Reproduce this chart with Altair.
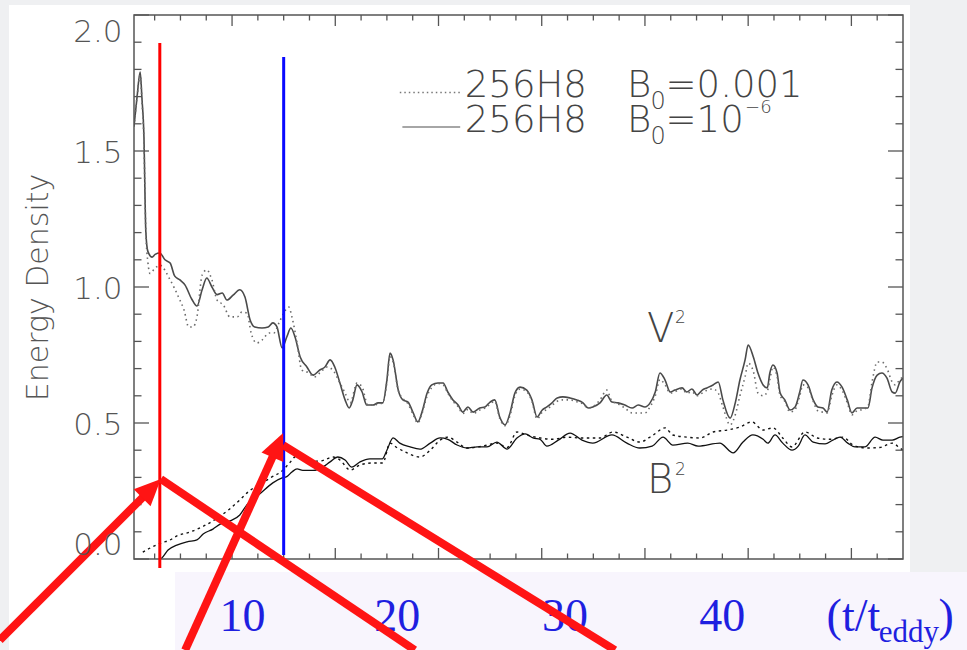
import altair as alt
import pandas as pd

# ---- data (x: output time index 1..150, y: energy density) ----
v2_solid = [(1.0,1.59),(1.6,1.70),(2.2,1.79),(2.55,1.69),(2.9,1.57),(3.3,1.20),(3.7,1.13),(4.5,1.11),(5.1,1.12),(6.0,1.125),
(7.0,1.10),(8.0,1.088),(8.9,1.04),(9.9,1.026),(10.9,1.007),(12.2,0.955),(13.2,0.93),(14.2,0.99),(15.1,1.033),(16.1,1.0),
(17.1,0.972),(18.1,0.978),(19.0,0.952),(20.2,0.97),(21.5,0.99),(22.5,0.963),(23.5,0.879),(24.4,0.853),(25.8,0.849),(27.0,0.853),
(27.9,0.868),(28.7,0.853),(29.7,0.776),(30.6,0.816),(31.4,0.849),(32.2,0.816),(33.2,0.743),(34.5,0.706),(35.7,0.676),(37.0,0.695),
(38.0,0.706),(39.0,0.732),(39.9,0.706),(40.9,0.647),(41.9,0.585),(42.7,0.555),(43.4,0.585),(44.2,0.640),(45.2,0.614),(46.1,0.566),
(47.3,0.566),(48.3,0.574),(49.2,0.574),(50.0,0.658),(50.6,0.757),(51.2,0.732),(52.2,0.621),(53.1,0.585),(54.1,0.577),(55.1,0.537),
(56.0,0.504),(56.8,0.540),(57.8,0.610),(58.7,0.640),(59.9,0.647),(60.9,0.647),(61.8,0.614),(62.8,0.585),(63.8,0.566),(64.7,0.540),
(65.7,0.559),(66.7,0.540),(68.0,0.555),(69.0,0.559),(70.0,0.577),(70.9,0.585),(71.9,0.520),(72.9,0.493),(73.9,0.540),(74.8,0.610),
(75.8,0.632),(77.1,0.621),(78.1,0.585),(79.1,0.522),(80.1,0.548),(81.0,0.559),(82.0,0.574),(83.0,0.592),(84.1,0.596),(85.5,0.592),
(86.8,0.585),(88.0,0.574),(89.0,0.555),(89.9,0.559),(91.3,0.574),(92.6,0.603),(93.6,0.577),(94.8,0.574),(96.1,0.566),(97.5,0.555),
(98.7,0.566),(100.0,0.559),(101.0,0.574),(102.0,0.614),(102.9,0.684),(103.9,0.658),(104.9,0.614),(105.8,0.621),(107.2,0.629),(108.1,0.614),
(109.1,0.625),(110.1,0.603),(111.1,0.621),(112.0,0.629),(113.2,0.640),(114.2,0.651),(115.1,0.585),(116.5,0.518),(117.5,0.574),(118.4,0.658),
(119.4,0.732),(120.0,0.787),(121.0,0.743),(121.9,0.684),(122.9,0.640),(123.7,0.629),(124.2,0.684),(124.8,0.713),(125.6,0.684),(126.2,0.610),
(127.1,0.585),(128.1,0.548),(129.1,0.559),(130.0,0.614),(130.6,0.658),(131.6,0.640),(132.6,0.585),(133.5,0.559),(134.5,0.555),(135.3,0.540),
(136.2,0.621),(137.2,0.651),(138.2,0.632),(139.2,0.585),(140.1,0.537),(141.1,0.555),(142.3,0.555),(143.2,0.555),(144.0,0.629),(145.0,0.676),
(145.9,0.684),(146.9,0.665),(147.9,0.614),(148.5,0.610),(149.4,0.651),(150.0,0.665)]

v2_dotted = [(1.0,1.59),(1.6,1.70),(2.2,1.78),(2.55,1.68),(2.9,1.55),(3.3,1.20),(3.7,1.09),(4.1,1.05),(5.1,1.07),(6.0,1.08),
(8.0,1.026),(9.7,0.96),(10.7,0.915),(11.6,0.853),(12.4,0.853),(13.2,0.89),(14.2,1.044),(15.1,1.063),(16.1,1.026),(17.1,0.952),
(18.3,0.934),(19.6,0.89),(21.0,0.89),(21.9,0.908),(22.9,0.904),(23.7,0.831),(24.8,0.794),(25.8,0.805),(27.2,0.831),(28.1,0.831),
(29.1,0.868),(30.0,0.904),(31.0,0.926),(31.6,0.89),(32.6,0.794),(33.5,0.695),(34.9,0.684),(35.9,0.669),(37.0,0.684),(38.4,0.706),
(39.5,0.695),(40.9,0.647),(41.9,0.610),(42.9,0.574),(44.2,0.647),(45.2,0.632),(46.3,0.566),(47.3,0.566),(48.3,0.570),(49.2,0.574),
(50.0,0.650),(50.6,0.745),(51.2,0.725),(52.2,0.620),(53.1,0.590),(54.1,0.570),(55.1,0.530),(56.0,0.500),(56.8,0.535),(57.8,0.600),
(58.7,0.630),(59.9,0.645),(60.9,0.640),(61.8,0.610),(62.8,0.580),(63.8,0.560),(64.7,0.535),(65.7,0.550),(66.7,0.535),(68.0,0.548),
(69.0,0.555),(70.0,0.570),(70.9,0.580),(71.9,0.515),(72.9,0.490),(73.9,0.530),(74.8,0.600),(75.8,0.625),(77.1,0.615),(78.1,0.580),
(79.1,0.515),(80.1,0.540),(81.0,0.550),(82.0,0.565),(83.0,0.580),(84.1,0.585),(85.5,0.585),(86.8,0.578),(88.0,0.570),(89.0,0.555),
(89.9,0.560),(91.3,0.585),(92.6,0.621),(93.6,0.580),(94.8,0.570),(96.1,0.555),(97.5,0.537),(98.7,0.537),(100.0,0.537),(101.0,0.560),
(102.0,0.600),(102.9,0.660),(103.9,0.640),(104.9,0.610),(105.8,0.615),(107.2,0.625),(108.1,0.610),(109.1,0.615),(110.1,0.600),(111.1,0.610),
(112.0,0.620),(113.2,0.625),(114.2,0.610),(115.1,0.560),(116.5,0.493),(117.5,0.530),(118.4,0.600),(119.4,0.670),(120.0,0.720),(121.0,0.690),
(121.9,0.610),(122.9,0.600),(123.7,0.615),(124.2,0.660),(124.8,0.706),(125.6,0.670),(126.2,0.600),(127.1,0.580),(128.1,0.540),(129.1,0.550),
(130.0,0.600),(130.6,0.640),(131.6,0.630),(132.6,0.580),(133.5,0.545),(134.5,0.540),(135.3,0.537),(136.2,0.600),(137.2,0.640),(138.2,0.620),
(139.2,0.575),(140.1,0.530),(141.1,0.545),(142.3,0.550),(143.2,0.560),(144.0,0.650),(145.0,0.724),(145.9,0.724),(146.9,0.700),(147.9,0.651),
(148.5,0.640),(149.4,0.660),(150.0,0.670)]

b2_solid = [(6.0,0.0),(6.4,0.004),(7.6,0.033),(9.3,0.051),(11.3,0.063),(13.2,0.070),(14.4,0.092),(16.3,0.110),(17.7,0.128),
(19.6,0.140),(21.5,0.162),(22.9,0.200),(25.4,0.240),(27.9,0.280),(29.7,0.298),(30.6,0.303),(31.6,0.320),(32.6,0.331),(33.7,0.326),
(35.7,0.326),(37.6,0.338),(39.0,0.357),(40.5,0.375),(41.9,0.364),(43.2,0.338),(44.8,0.357),(46.7,0.368),(49.1,0.368),(50.0,0.400),
(51.2,0.445),(52.5,0.426),(54.5,0.412),(56.4,0.404),(58.4,0.426),(60.3,0.445),(61.8,0.440),(63.6,0.419),(65.5,0.408),(67.5,0.412),
(69.4,0.412),(71.3,0.430),(73.3,0.404),(75.2,0.445),(76.8,0.460),(78.3,0.445),(79.7,0.440),(81.0,0.415),(83.2,0.437),(85.5,0.463),
(87.8,0.437),(89.9,0.426),(93.6,0.456),(96.5,0.426),(99.0,0.408),(101.4,0.415),(103.5,0.448),(105.4,0.419),(108.3,0.426),(110.3,0.415),
(114.5,0.426),(117.1,0.390),(119.0,0.430),(120.9,0.456),(122.9,0.440),(123.8,0.426),(125.2,0.456),(126.7,0.426),(128.5,0.400),(129.7,0.415),
(131.0,0.456),(132.6,0.430),(134.9,0.423),(136.4,0.437),(137.8,0.448),(139.3,0.426),(140.7,0.412),(142.6,0.412),(144.6,0.448),(146.1,0.437),
(147.9,0.437),(149.4,0.448),(150.0,0.450)]

b2_dashed = [(2.7,0.025),(4.5,0.044),(6.4,0.060),(8.0,0.070),(9.3,0.085),(11.5,0.097),(14.4,0.120),(17.4,0.154),(19.6,0.185),(21.5,0.217),
(23.2,0.248),(25.4,0.275),(27.6,0.300),(29.9,0.327),(31.2,0.355),(32.6,0.380),(35.1,0.360),(37.0,0.360),(39.6,0.375),(40.9,0.364),
(42.9,0.327),(44.8,0.346),(47.3,0.353),(49.2,0.353),(50.6,0.426),(51.9,0.410),(53.9,0.390),(56.4,0.375),(58.4,0.400),(60.3,0.437),
(61.8,0.448),(63.6,0.430),(65.5,0.408),(68.6,0.415),(71.3,0.426),(73.3,0.410),(75.2,0.467),(77.1,0.456),(79.7,0.445),(82.2,0.440),
(84.9,0.448),(87.4,0.445),(91.3,0.445),(93.8,0.467),(96.5,0.448),(99.0,0.430),(101.6,0.456),(103.9,0.482),(105.4,0.456),(108.1,0.448),
(110.7,0.445),(113.2,0.467),(115.9,0.474),(118.4,0.485),(120.7,0.504),(122.9,0.474),(124.8,0.482),(126.7,0.445),(128.5,0.412),(131.0,0.467),
(133.4,0.445),(135.9,0.440),(138.4,0.448),(140.3,0.419),(143.0,0.408),(145.5,0.410),(147.9,0.426),(149.4,0.408),(150.0,0.400)]

# axis ticks
x_major_ticks = [20, 40, 60, 80, 100, 120, 140]
x_minor_ticks = [5, 10, 15, 25, 30, 35, 45, 50, 55, 65, 70, 75, 85, 90, 95, 105, 110, 115, 125, 130, 135, 145]
y_major_ticks = [0.0, 0.5, 1.0, 1.5, 2.0]
y_minor_ticks = [0.1, 0.2, 0.3, 0.4, 0.6, 0.7, 0.8, 0.9, 1.1, 1.2, 1.3, 1.4, 1.6, 1.7, 1.8, 1.9]

# slide overlay (t / t_eddy labels) and markers
overlay_labels = ["10", "20", "30", "40"]
overlay_label_x = [22.0, 52.0, 84.5, 115.0]
marker_red_x = 6.0      # t = 2 t_eddy
marker_blue_x = 30.0    # t = 10 t_eddy

# legend pieces: run name, "B", subscript "0", value, superscript
legend_run = ["256H8", "256H8"]
legend_value = ["=0.001", "=10"]
legend_sup = ["", "\u22126"]

# ---- layout ----
W, H = 769, 544
FONT = "DejaVu Sans"
GRAY = "#555555"
TXT = "#444444"
RED = "#ff1414"
BLUE_TXT = "#1f1fe0"

xs = alt.Scale(domain=[1, 150], nice=False, zero=False)
ys = alt.Scale(domain=[0, 2], nice=False, zero=False)


def X(f="x"):
    return alt.X(f"{f}:Q", scale=xs, axis=None)


def Y(f="y"):
    # axis left implicit so that the explicit axis of the V^2 layer is kept
    return alt.Y(f"{f}:Q", scale=ys)


def df_pairs(p):
    return pd.DataFrame(p, columns=["x", "y"])


def text_layer(xv, yv, texts, size, font=FONT, color=TXT, weight=200, align="left"):
    d = pd.DataFrame({"x": xv, "y": yv, "t": texts})
    return alt.Chart(d).mark_text(
        font=font, fontSize=size, fontWeight=weight, color=color, align=align, baseline="alphabetic"
    ).encode(x=X(), y=Y(), text="t:N")


one = pd.DataFrame({"a": [0]})

layers = []
# slide background pieces
layers.append(alt.Chart(one).mark_rect(color="white").encode(
    x=alt.value(-125), x2=alt.value(776), y=alt.value(-10), y2=alt.value(635)))
layers.append(alt.Chart(one).mark_rect(color="#f8f5fd").encode(
    x=alt.value(41), x2=alt.value(840), y=alt.value(557), y2=alt.value(640)))

# curves (first one carries the y axis)
layers.append(alt.Chart(df_pairs(v2_solid)).mark_line(
    color="#4a4a4a", strokeWidth=1.6, interpolate="monotone", clip=True
).encode(
    x=X(),
    y=alt.Y("y:Q", scale=ys, axis=alt.Axis(
        values=y_major_ticks, format=".1f", ticks=False, domain=False, grid=False,
        labelFont=FONT, labelFontSize=31, labelFontWeight=200, labelColor=GRAY,
        labelPadding=12, labelFlush=True, labelOffset=2,
        title="Energy Density", titleFont=FONT, titleFontSize=30, titleFontWeight=200,
        titleColor=GRAY, titlePadding=19, zindex=2)),
    order="x:Q"))
layers.append(alt.Chart(df_pairs(v2_dotted)).mark_line(
    color="#6a6a6a", strokeWidth=1.6, strokeDash=[1.5, 3.5], interpolate="monotone", clip=True
).encode(x=X(), y=Y(), order="x:Q"))
layers.append(alt.Chart(df_pairs(b2_dashed)).mark_line(
    color="#111111", strokeWidth=1.4, strokeDash=[2.5, 3.5], interpolate="monotone", clip=True
).encode(x=X(), y=Y(), order="x:Q"))
layers.append(alt.Chart(df_pairs(b2_solid)).mark_line(
    color="#111111", strokeWidth=1.3, interpolate="monotone", clip=True
).encode(x=X(), y=Y(), order="x:Q"))

# frame + inward ticks
layers.append(alt.Chart(one).mark_rect(filled=False, stroke=GRAY, strokeWidth=1.5).encode(
    x=alt.value(0), x2=alt.value(W), y=alt.value(0), y2=alt.value(H)))
xmaj = pd.DataFrame({"x": x_major_ticks})
xmin = pd.DataFrame({"x": x_minor_ticks})
ymaj = pd.DataFrame({"y": y_major_ticks})
ymin = pd.DataFrame({"y": y_minor_ticks})
tk = dict(color=GRAY, strokeWidth=1.3)
layers += [
    alt.Chart(xmaj).mark_rule(**tk).encode(x=X(), y=alt.value(H), y2=alt.value(H - 11)),
    alt.Chart(xmin).mark_rule(**tk).encode(x=X(), y=alt.value(H), y2=alt.value(H - 5.5)),
    alt.Chart(xmaj).mark_rule(**tk).encode(x=X(), y=alt.value(0), y2=alt.value(11)),
    alt.Chart(xmin).mark_rule(**tk).encode(x=X(), y=alt.value(0), y2=alt.value(5.5)),
    alt.Chart(ymaj).mark_rule(**tk).encode(y=Y(), x=alt.value(0), x2=alt.value(15)),
    alt.Chart(ymin).mark_rule(**tk).encode(y=Y(), x=alt.value(0), x2=alt.value(7.5)),
    alt.Chart(ymaj).mark_rule(**tk).encode(y=Y(), x=alt.value(W), x2=alt.value(W - 15)),
    alt.Chart(ymin).mark_rule(**tk).encode(y=Y(), x=alt.value(W), x2=alt.value(W - 7.5)),
]

# legend
leg_lines = pd.DataFrame({"x": [52.5, 53.0], "x2": [64.2, 64.2], "y": [1.715, 1.588]})
layers.append(alt.Chart(leg_lines.iloc[[0]]).mark_rule(color="#777", strokeWidth=1.5, strokeDash=[1.5, 3]).encode(
    x=X(), x2="x2:Q", y=Y()))
layers.append(alt.Chart(leg_lines.iloc[[1]]).mark_rule(color="#888", strokeWidth=1.5).encode(
    x=X(), x2="x2:Q", y=Y()))
layers.append(text_layer([65.1, 65.1], [1.699, 1.570], legend_run, 37))
layers.append(text_layer([96.5, 96.5], [1.699, 1.570], ["B", "B"], 37))
layers.append(text_layer([101.1, 101.1], [1.655, 1.526], ["0", "0"], 24))
layers.append(text_layer([104.0, 104.0], [1.699, 1.570], legend_value, 37))
layers.append(text_layer([119.4], [1.640], [legend_sup[1]], 18))

# curve labels
layers.append(text_layer([100.4, 100.4], [0.798, 0.243], ["V", "B"], 40))
layers.append(text_layer([105.8, 105.8], [0.868, 0.309], ["2", "2"], 17))

# vertical markers
vm = pd.DataFrame({"x": [marker_red_x], "y": [-0.033], "y2": [1.897]})
layers.append(alt.Chart(vm).mark_rule(color="#ff0000", strokeWidth=3).encode(x=X(), y=Y(), y2="y2:Q"))
vb = pd.DataFrame({"x": [marker_blue_x], "y": [0.015], "y2": [1.846]})
layers.append(alt.Chart(vb).mark_rule(color="#0a0aff", strokeWidth=3).encode(x=X(), y=Y(), y2="y2:Q"))

# overlay labels (slide annotation)
layers.append(text_layer(overlay_label_x, [-0.265] * 4, overlay_labels, 46,
                         font="Liberation Serif", color=BLUE_TXT, weight=400, align="center"))
layers.append(text_layer([135.2, 156.9], [-0.265, -0.265], ["(t/t", ")"], 46,
                         font="Liberation Serif", color=BLUE_TXT, weight=400))
layers.append(text_layer([145.3], [-0.305], ["eddy"], 31,
                         font="Liberation Serif", color=BLUE_TXT, weight=400))

# red arrows
segs = pd.DataFrame({
    "x": [-25.0, 6.2, 10.9, 29.9],
    "y": [-0.298, 0.294, -0.335, 0.419],
    "x2": [4.45, 55.4, 28.88, 94.2],
    "y2": [0.26, -0.335, 0.419, -0.335],
})
layers.append(alt.Chart(segs).mark_rule(color=RED, strokeWidth=8).encode(
    x=X(), y=Y(), x2="x2:Q", y2="y2:Q"))
heads = pd.DataFrame({"x": [6.2, 29.9], "y": [0.294, 0.463]})
head_shape = "M0,0L-0.9,2L0.9,2Z"
layers.append(alt.Chart(heads.iloc[[0]]).mark_point(
    shape=head_shape, filled=True, color=RED, opacity=1, size=700, angle=45, strokeWidth=0
).encode(x=X(), y=Y()))
layers.append(alt.Chart(heads.iloc[[1]]).mark_point(
    shape=head_shape, filled=True, color=RED, opacity=1, size=700, angle=24, strokeWidth=0
).encode(x=X(), y=Y()))

chart = alt.layer(*layers).properties(
    width=W, height=H,
    padding={"left": 134, "top": 15, "right": 64, "bottom": 91},
    autosize=alt.AutoSizeParams(type="none"),
    background="#eff0f2",
).configure_view(strokeWidth=0)

chart.save("out.html", embed_options={"renderer": "svg", "actions": False})
